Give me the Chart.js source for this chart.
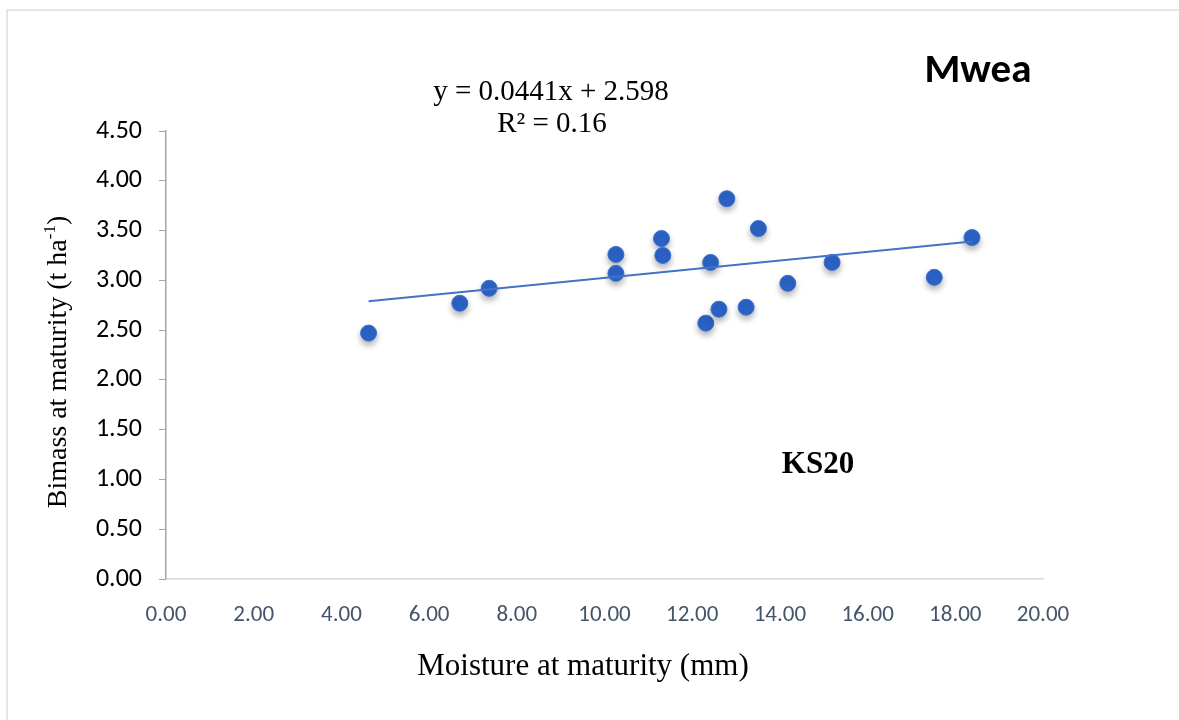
<!DOCTYPE html>
<html>
<head>
<meta charset="utf-8">
<script src="https://cdn.jsdelivr.net/npm/chart.js@4"></script>
<style>
html,body{margin:0;padding:0;background:#fff;}
#wrap{position:relative;width:1179px;height:720px;}
</style>
</head>
<body>
<div id="wrap"><canvas id="c" width="1179" height="720"></canvas></div>
<script>
// Data
const moisture = [4.62, 6.70, 7.37, 10.26, 10.26, 11.30, 11.33, 12.31, 12.42, 12.61, 12.79, 13.23, 13.51, 14.18, 15.19, 17.52, 18.38];
const biomass  = [2.47, 2.77, 2.92, 3.26, 3.07, 3.42, 3.25, 2.57, 3.18, 2.71, 3.82, 2.73, 3.52, 2.97, 3.18, 3.03, 3.43];
const trendX = [4.62, 18.38];
const trendY = [2.79, 3.39];
const yTicks = [0, 0.5, 1, 1.5, 2, 2.5, 3, 3.5, 4, 4.5];
const xTicks = [0, 2, 4, 6, 8, 10, 12, 14, 16, 18, 20];
const equationText = 'y = 0.0441x + 2.598';
const r2Text = 'R² = 0.16';
const titleText = 'Mwea';
const varietyText = 'KS20';
const xTitle = 'Moisture at maturity (mm)';
const yTitleMain = 'Bimass at maturity (t ha';
const yTitleSup = '-1';
const yTitleEnd = ')';

const SANS = 'Carlito, Lato, "Open Sans", sans-serif';
const SERIF = '"Liberation Serif", "DejaVu Serif", serif';

const pts = moisture.map((x, i) => ({x, y: biomass[i]}));
const trend = trendX.map((x, i) => ({x, y: trendY[i]}));

const shadowPlugin = {
  id: 'shadow',
  beforeDatasetDraw(chart, args) {
    if (args.index === 1) {
      const ctx = chart.ctx;
      ctx.save();
      ctx.shadowColor = 'rgba(0,0,0,0.3)';
      ctx.shadowBlur = 6;
      ctx.shadowOffsetX = 0;
      ctx.shadowOffsetY = 4;
    }
  },
  afterDatasetDraw(chart, args) {
    if (args.index === 1) chart.ctx.restore();
  }
};

const textPlugin = {
  id: 'texts',
  afterDraw(chart) {
    const ctx = chart.ctx;
    ctx.save();
    // outer frame
    ctx.strokeStyle = '#dcdce4';
    ctx.lineWidth = 1.5;
    ctx.beginPath();
    ctx.moveTo(7, 720);
    ctx.lineTo(7, 10);
    ctx.lineTo(1179, 10);
    ctx.stroke();

    ctx.fillStyle = '#000';
    ctx.textAlign = 'center';
    ctx.textBaseline = 'middle';
    ctx.font = '29px ' + SERIF;
    ctx.fillText(equationText, 551, 92);
    ctx.fillText(r2Text, 552, 124);
    ctx.font = 'bold 41px ' + SANS;
    ctx.fillText(titleText, 978, 72);
    ctx.font = 'bold 31px ' + SERIF;
    ctx.fillText(varietyText, 818, 465);
    ctx.font = '31px ' + SERIF;
    ctx.fillText(xTitle, 583, 667);

    // rotated y title with superscript
    ctx.translate(57, 362);
    ctx.rotate(-Math.PI / 2);
    const mainFont = '28px ' + SERIF;
    const supFont = '17px ' + SERIF;
    ctx.font = mainFont;
    const w1 = ctx.measureText(yTitleMain).width;
    const w3 = ctx.measureText(yTitleEnd).width;
    ctx.font = supFont;
    const w2 = ctx.measureText(yTitleSup).width;
    const total = w1 + w2 + w3;
    let x0 = -total / 2;
    ctx.textAlign = 'left';
    ctx.textBaseline = 'alphabetic';
    const base = 9;
    ctx.font = mainFont;
    ctx.fillText(yTitleMain, x0, base);
    ctx.font = supFont;
    ctx.fillText(yTitleSup, x0 + w1, base - 11);
    ctx.font = mainFont;
    ctx.fillText(yTitleEnd, x0 + w1 + w2, base);
    ctx.restore();
  }
};

new Chart(document.getElementById('c'), {
  type: 'scatter',
  data: {
    datasets: [
      {
        type: 'line',
        label: 'Trend',
        data: trend,
        borderColor: '#4472C4',
        borderWidth: 2,
        pointRadius: 0,
        fill: false,
        order: 0
      },
      {
        label: 'KS20',
        data: pts,
        backgroundColor: '#2B63C6',
        borderColor: '#3A6FD0',
        borderWidth: 1,
        pointRadius: 8,
        pointHoverRadius: 8,
        order: 1
      }
    ]
  },
  options: {
    responsive: false,
    animation: false,
    events: [],
    layout: { padding: { left: 0, right: 136, top: 131, bottom: 0 } },
    plugins: { legend: { display: false }, tooltip: { enabled: false } },
    scales: {
      x: {
        type: 'linear',
        min: 0, max: 20,
        afterBuildTicks(s) { s.ticks = xTicks.map(v => ({value: v})); },
        afterFit(s) { s.height = 141; },
        grid: { display: true, drawOnChartArea: false, drawTicks: false },
        border: { color: '#d9d9d9', width: 1.5 },
        ticks: {
          padding: 22,
          color: '#44546A',
          font: { family: SANS, size: 23 },
          callback: v => Number(v).toFixed(2)
        }
      },
      y: {
        type: 'linear',
        min: 0, max: 4.5,
        afterBuildTicks(s) { s.ticks = yTicks.map(v => ({value: v})); },
        afterFit(s) { s.width = 166; },
        grid: { display: true, drawOnChartArea: false, drawTicks: true, tickLength: 7, color: '#a6a6a6' },
        border: { color: '#a6a6a6', width: 1.5 },
        ticks: {
          padding: 17,
          color: '#000',
          font: { family: SANS, size: 26 },
          callback: v => Number(v).toFixed(2)
        }
      }
    }
  },
  plugins: [shadowPlugin, textPlugin]
});
</script>
</body>
</html>
